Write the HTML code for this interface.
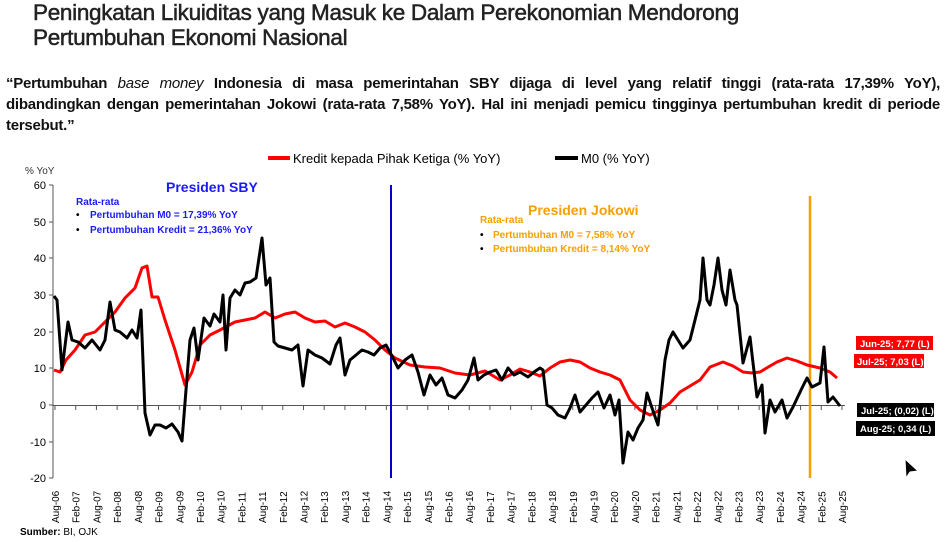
<!DOCTYPE html>
<html><head><meta charset="utf-8">
<style>
body{margin:0;width:945px;height:542px;background:#fff;overflow:hidden;position:relative;font-family:"Liberation Sans Narrow","Liberation Sans",sans-serif;}
.t{position:absolute;left:33px;top:0px;font-size:22.5px;color:#222;line-height:25px;font-weight:normal;letter-spacing:-0.3px;-webkit-text-stroke:0.5px #222}
.q{position:absolute;left:6px;top:73px;width:934px;font-size:15px;line-height:21px;color:#111;font-weight:bold;letter-spacing:-0.25px}
.q div{text-align:justify;text-align-last:justify;white-space:nowrap}
.q div.l{text-align-last:left}
svg{position:absolute;left:0;top:0}
</style></head><body>
<div class="t">Peningkatan Likuiditas yang Masuk ke Dalam Perekonomian Mendorong<br>Pertumbuhan Ekonomi Nasional</div>
<div class="q"><div>“Pertumbuhan <i style="font-weight:normal">base money</i> Indonesia di masa pemerintahan SBY dijaga di level yang relatif tinggi (rata-rata 17,39% YoY),</div><div>dibandingkan dengan pemerintahan Jokowi (rata-rata 7,58% YoY). Hal ini menjadi pemicu tingginya pertumbuhan kredit di periode</div><div class="l">tersebut.”</div></div>
<svg width="945" height="542" font-family="Liberation Sans, sans-serif">
<line x1="268" y1="158" x2="290" y2="158" stroke="#f00" stroke-width="4"/>
<text x="293" y="163" font-size="13" fill="#000">Kredit kepada Pihak Ketiga (% YoY)</text>
<line x1="555" y1="158" x2="578" y2="158" stroke="#000" stroke-width="4"/>
<text x="581" y="163" font-size="13" fill="#000">M0 (% YoY)</text>
<text x="25" y="174" font-size="10" fill="#333">% YoY</text>
<g font-size="11" fill="#000" text-anchor="end">
<text x="46" y="189">60</text><text x="46" y="226">50</text><text x="46" y="262">40</text><text x="46" y="299">30</text><text x="46" y="336">20</text><text x="46" y="372">10</text><text x="46" y="409">0</text><text x="46" y="446">-10</text><text x="46" y="482">-20</text>
</g>
<g stroke="#555" stroke-width="1">
<line x1="53" y1="185" x2="53" y2="478"/>
<line x1="49" y1="185" x2="53" y2="185"/><line x1="49" y1="222" x2="53" y2="222"/><line x1="49" y1="258" x2="53" y2="258"/><line x1="49" y1="295" x2="53" y2="295"/><line x1="49" y1="332" x2="53" y2="332"/><line x1="49" y1="368" x2="53" y2="368"/><line x1="49" y1="405" x2="53" y2="405"/><line x1="49" y1="442" x2="53" y2="442"/><line x1="49" y1="478" x2="53" y2="478"/>
<line x1="53" y1="405.5" x2="845" y2="405.5"/>
</g>
<g id="ticks" stroke="#555"></g>
<line x1="391" y1="185" x2="391" y2="478" stroke="#0000cc" stroke-width="2"/>
<line x1="810" y1="196" x2="810" y2="478" stroke="#f5a000" stroke-width="2.5"/>
<text x="166" y="192" font-size="14" font-weight="bold" fill="#1a1aff">Presiden SBY</text>
<text x="76" y="205" font-size="10" font-weight="bold" fill="#1a1aff">Rata-rata</text>
<text x="76" y="218" font-size="10" font-weight="bold" fill="#000">•</text><text x="90" y="218" font-size="10" font-weight="bold" fill="#1a1aff">Pertumbuhan M0 = 17,39% YoY</text>
<text x="76" y="233" font-size="10" font-weight="bold" fill="#000">•</text><text x="90" y="233" font-size="10" font-weight="bold" fill="#1a1aff">Pertumbuhan Kredit = 21,36% YoY</text>
<text x="528" y="215" font-size="14" font-weight="bold" fill="#f5a000">Presiden Jokowi</text>
<text x="480" y="223" font-size="10" font-weight="bold" fill="#f5a000">Rata-rata</text>
<text x="480" y="238" font-size="10" font-weight="bold" fill="#000">•</text><text x="493" y="238" font-size="10" font-weight="bold" fill="#f5a000">Pertumbuhan M0 = 7,58% YoY</text>
<text x="480" y="252" font-size="10" font-weight="bold" fill="#000">•</text><text x="493" y="252" font-size="10" font-weight="bold" fill="#f5a000">Pertumbuhan Kredit = 8,14% YoY</text>
<polyline fill="none" stroke="#f00" stroke-width="3" stroke-linejoin="round" points="54,370 60,372 66,360 75,350 85,335 95,332 105,322 115,312 125,298 135,288 142,268 147,266 152,297 158,297 165,320 175,350 185,385 192,372 200,345 210,335 220,330 235,322 245,320 255,318 265,312 275,318 285,314 295,312 305,318 315,322 325,321 335,327 345,323 355,327 365,332 375,340 385,350 395,358 410,365 425,367 440,368 455,373 470,375 485,371 500,380 510,375 520,369 530,372 540,376 550,368 560,362 570,360 580,362 590,368 600,372 610,375 620,380 630,400 640,410 650,415 660,410 670,403 680,392 690,386 700,380 710,367 723,362 733,366 743,372 752,373 760,372 770,366 777,362 787,358 797,361 807,365 820,368 830,372 837,378"/>
<polyline fill="none" stroke="#000" stroke-width="3" stroke-linejoin="round" points="54,296 57,300 62,370 68,322 72,340 78,342 85,348 92,340 100,350 105,340 110,302 115,330 120,332 127,338 132,330 137,338 141,310 145,413 150,435 155,425 160,425 166,428 172,424 178,432 182,441 186,390 190,340 194,328 198,360 204,318 210,326 214,314 220,322 223,295 226,350 230,298 235,290 240,295 245,283 250,282 256,278 262,238 266,285 270,278 274,342 278,346 285,348 292,350 298,345 303,386 308,350 315,355 322,358 330,364 336,345 340,338 345,375 350,360 356,355 362,350 368,352 374,355 380,348 386,345 392,356 398,368 405,360 412,355 418,372 424,395 430,375 436,385 442,378 448,395 455,398 462,390 468,380 474,358 478,380 484,375 490,372 496,370 502,380 508,368 514,375 520,372 528,377 534,372 540,368 543,370 547,405 552,408 558,415 565,418 570,408 575,395 580,412 586,405 592,398 598,392 604,408 610,395 615,415 619,400 623,463 628,432 633,440 638,428 643,420 647,393 652,408 658,425 665,360 669,340 673,332 678,340 683,348 690,340 695,320 700,300 703,258 707,300 710,305 714,285 718,258 722,290 726,305 730,270 735,300 737,305 743,363 750,337 757,397 762,385 765,433 770,400 775,412 782,400 787,418 793,407 802,388 807,378 812,387 820,383 824,347 828,402 833,397 840,406"/>
<g id="xl" font-size="10" fill="#000"></g>
<rect x="856" y="336" width="77" height="14" fill="#f00"/><text x="860" y="347" font-size="9.5" font-weight="bold" fill="#fff">Jun-25; 7,77 (L)</text>
<rect x="854" y="354" width="70" height="14" fill="#f00"/><text x="857" y="365" font-size="9.5" font-weight="bold" fill="#fff">Jul-25; 7,03 (L)</text>
<rect x="857" y="403" width="77" height="14" fill="#000"/><text x="861" y="414" font-size="9.5" font-weight="bold" fill="#fff">Jul-25; (0,02) (L)</text>
<rect x="856" y="421" width="79" height="15" fill="#000"/><text x="860" y="432" font-size="9.5" font-weight="bold" fill="#fff">Aug-25; 0,34  (L)</text>
<path d="M905,459 L918,471 L910,472 L906,478 Z" fill="#000" stroke="#fff" stroke-width="1"/>
<text x="20" y="535" font-size="10" font-weight="bold" fill="#000">Sumber: <tspan font-weight="normal">BI, OJK</tspan></text>
</svg>
<script>
var ns="http://www.w3.org/2000/svg",t=document.getElementById("ticks"),xl=document.getElementById("xl");
for(var i=0;i<=38;i++){var x=55+i*20.71;var l=document.createElementNS(ns,"line");l.setAttribute("x1",x);l.setAttribute("x2",x);l.setAttribute("y1",405.5);l.setAttribute("y2",410);t.appendChild(l);
var yr=6+Math.floor((i+1)/2);var m=(i%2==0)?"Aug-":"Feb-";var s=m+(yr<10?"0":"")+yr;
var tx=document.createElementNS(ns,"text");tx.setAttribute("transform","translate("+(x+4)+",523) rotate(-90)");tx.textContent=s;xl.appendChild(tx);}
</script>
</body></html>
